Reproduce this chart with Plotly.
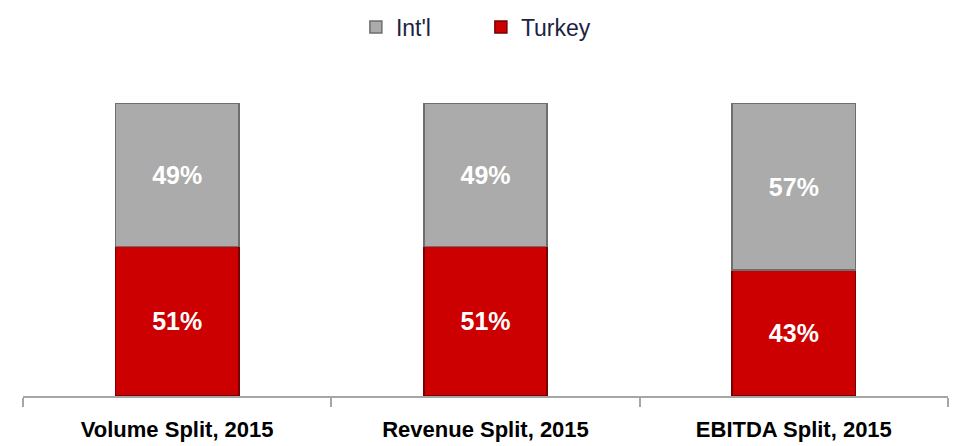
import plotly.graph_objects as go

categories = ["Volume Split, 2015", "Revenue Split, 2015", "EBITDA Split, 2015"]
turkey = [51, 51, 43]
intl = [49, 49, 57]

FONT = "Liberation Sans"

fig = go.Figure()
fig.add_trace(go.Bar(
    name="Turkey", x=categories, y=turkey,
    marker=dict(color="#cc0000", line=dict(color="#7a0000", width=1.5)),
    text=[f"{v}%" for v in turkey], textposition="inside", insidetextanchor="middle",
    textfont=dict(color="white", size=25, family=FONT),
))
fig.add_trace(go.Bar(
    name="Int'l", x=categories, y=intl,
    marker=dict(color="#ababab", line=dict(color="#6e6e6e", width=1.5)),
    text=[f"{v}%" for v in intl], textposition="inside", insidetextanchor="middle",
    textfont=dict(color="white", size=25, family=FONT),
))

fig.update_traces(texttemplate="<b>%{text}</b>")

# page body has an 8px margin, so the figure is sized 8px smaller each way
fig.update_layout(
    barmode="stack",
    bargap=0.6,
    width=963, height=438,
    margin=dict(l=15, r=23, t=95, b=50, autoexpand=False),
    plot_bgcolor="white", paper_bgcolor="white",
    showlegend=True,
    legend=dict(orientation="h", traceorder="reversed", x=0.495, xanchor="center",
                y=1.333, yanchor="top", itemwidth=30, entrywidth=80,
                font=dict(size=23, color="#1c2340", family=FONT)),
    xaxis=dict(showline=True, linecolor="#a6a6a6", linewidth=2,
               ticks="outside", tickson="boundaries", ticklen=9, tickwidth=2, tickcolor="#a6a6a6",
               tickfont=dict(size=22, color="black", family=FONT),
               ticklabelstandoff=13, automargin=False,
               tickprefix="<b>", ticksuffix="</b>"),
    yaxis=dict(range=[0, 100], visible=False),
    uniformtext=dict(mode="show", minsize=10),
)

fig.write_html("out.html")
